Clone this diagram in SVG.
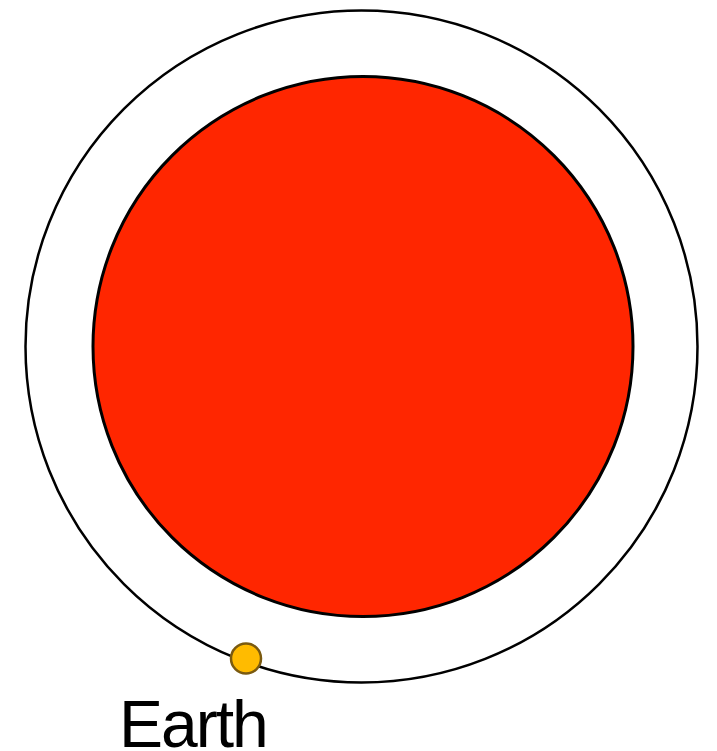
<svg xmlns="http://www.w3.org/2000/svg" width="717" height="751" viewBox="0 0 717 751">
<style>
.orbit{fill:none;stroke:#000;stroke-width:2.5}
.sun{fill:#FF2600;stroke:#000;stroke-width:3}
.earth{fill:#FFBB00;stroke:#7A5A10;stroke-width:2.5}
.label{font-family:"Liberation Sans",Arial,sans-serif;font-size:66px;letter-spacing:-2px;fill:#000}
</style>
<rect width="717" height="751" fill="#fff"/>
<g id="orbit"><circle class="orbit" cx="361.5" cy="346.5" r="336"/></g>
<g id="sun"><circle class="sun" cx="363" cy="346.5" r="270"/></g>
<g id="earth"><circle class="earth" cx="246" cy="658.5" r="15"/></g>
<g id="earth-label"><text class="label" x="119" y="746.5">Earth</text></g>
</svg>
